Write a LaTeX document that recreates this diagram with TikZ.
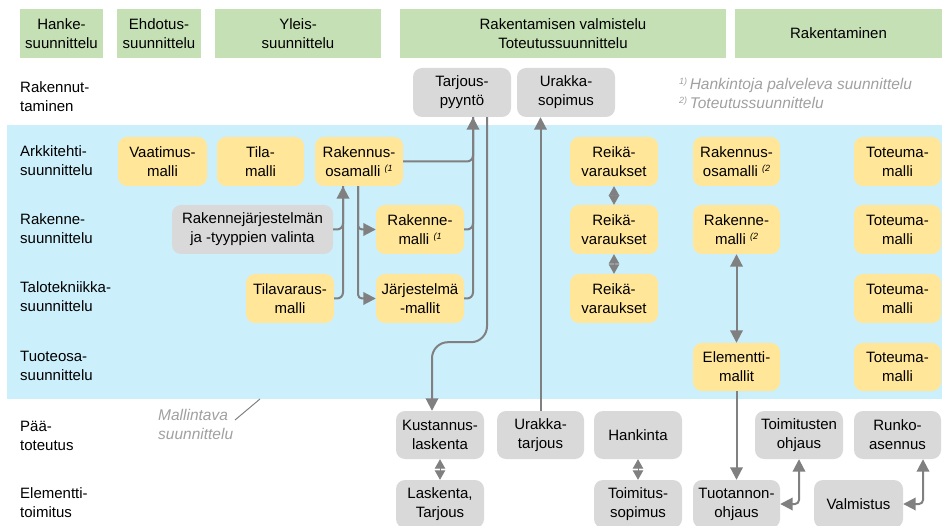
\documentclass[tikz,border=0pt]{standalone}
\usepackage{fontspec}
\setmainfont{Liberation Sans}
\usetikzlibrary{arrows.meta}
\definecolor{hdrgreen}{HTML}{C5E0B4}
\definecolor{bandblue}{HTML}{CCEFFC}
\definecolor{ylw}{HTML}{FFE699}
\definecolor{gry}{HTML}{D9D9D9}
\definecolor{lnc}{HTML}{808080}
\definecolor{notec}{HTML}{A0A0A0}
\newcommand{\supit}[1]{\raisebox{5pt}{\fontsize{9}{9}\selectfont\itshape #1}}
\begin{document}
\begin{tikzpicture}[x=1pt,y=-1pt, font=\fontsize{15}{19}\selectfont,
  box/.style={rounded corners=9pt, align=center, inner sep=0pt, minimum height=49pt},
  ybox/.style={box, fill=ylw, minimum width=88pt},
  gbox/.style={box, fill=gry, minimum width=88pt},
  hdr/.style={fill=hdrgreen, align=center, inner sep=0pt, minimum height=49pt},
  lab/.style={anchor=west, align=left, inner sep=0pt},
  note/.style={anchor=west, align=left, inner sep=0pt, text=notec, font=\fontsize{15.5}{19}\selectfont\itshape},
  conn/.style={draw=lnc, line width=2pt, -{Triangle[length=12.5pt,width=12.5pt]}},
  plainline/.style={draw=lnc, line width=2pt},
  conntwo/.style={draw=lnc, line width=2pt, {Triangle[length=12.5pt,width=12.5pt]}-{Triangle[length=12.5pt,width=12.5pt]}},
  dia/.style={draw=lnc, line width=1pt, {Triangle[length=9.5pt,width=10.5pt]}-{Triangle[length=9.5pt,width=10.5pt]}},
  thinline/.style={draw=lnc, line width=1pt}
]
\useasboundingbox (0,0) rectangle (942,526);
% band
\fill[bandblue] (7,125) rectangle (942,399);
% headers
\node[hdr, minimum width=83pt] (h1) at (61.5,33.5) {Hanke-\\suunnittelu};
\node[hdr, minimum width=84pt] (h2) at (159,33.5) {Ehdotus-\\suunnittelu};
\node[hdr, minimum width=166pt] (h3) at (298,33.5) {Yleis-\\suunnittelu};
\node[hdr, minimum width=326pt] (h4) at (563,33.5) {Rakentamisen valmistelu\\Toteutussuunnittelu};
\node[hdr, minimum width=207pt] (h5) at (838.5,33.5) {Rakentaminen};
% row labels
\node[lab] (l1) at (20,97) {Rakennut-\\taminen};
\node[lab] (l2) at (20,161) {Arkkitehti-\\suunnittelu};
\node[lab] (l3) at (20,229) {Rakenne-\\suunnittelu};
\node[lab] (l4) at (20,297) {Talotekniikka-\\suunnittelu};
\node[lab] (l5) at (20,366) {Tuoteosa-\\suunnittelu};
\node[lab] (l6) at (20,436) {Pää-\\toteutus};
\node[lab] (l7) at (20,503) {Elementti-\\toimitus};
% top row
\node[gbox, minimum width=98pt] (tarj) at (462,92.5) {Tarjous-\\pyyntö};
\node[gbox, minimum width=98pt] (urso) at (566,92.5) {Urakka-\\sopimus};
% row 1
\node[ybox, minimum width=89pt] (vaat) at (162.5,161.5) {Vaatimus-\\malli};
\node[ybox, minimum width=87pt] (tila) at (260.5,161.5) {Tila-\\malli};
\node[ybox] (rko1) at (359,161.5) {Rakennus-\\osamalli \supit{(1}};
\node[ybox] (reik1) at (614,161.5) {Reikä-\\varaukset};
\node[ybox, minimum width=87pt] (rko2) at (736.5,161.5) {Rakennus-\\osamalli \supit{(2}};
\node[ybox, minimum width=87pt] (tot1) at (897.5,161.5) {Toteuma-\\malli};
% row 2
\node[gbox, minimum width=161pt] (rjval) at (252.5,229.5) {Rakennejärjestelmän\\ja -tyyppien valinta};
\node[ybox] (rm1) at (420,229.5) {Rakenne-\\malli \supit{(1}};
\node[ybox] (reik2) at (614,229.5) {Reikä-\\varaukset};
\node[ybox, minimum width=87pt] (rm2) at (736.5,229.5) {Rakenne-\\malli \supit{(2}};
\node[ybox, minimum width=87pt] (tot2) at (897.5,229.5) {Toteuma-\\malli};
% row 3
\node[ybox] (tilav) at (290,298.5) {Tilavaraus-\\malli};
\node[ybox] (jarj) at (420,298.5) {Järjestelmä\\-mallit};
\node[ybox] (reik3) at (614,298.5) {Reikä-\\varaukset};
\node[ybox, minimum width=87pt] (tot3) at (897.5,298.5) {Toteuma-\\malli};
% row 4
\node[ybox, minimum width=87pt, minimum height=48pt] (elem) at (736.5,367) {Elementti-\\mallit};
\node[ybox, minimum width=87pt, minimum height=48pt] (tot4) at (897.5,367) {Toteuma-\\malli};
% bottom rows
\node[gbox, minimum height=48pt] (kust) at (440,435) {Kustannus-\\laskenta};
\node[gbox, minimum width=87pt, minimum height=48pt] (urta) at (540.5,435) {Urakka-\\tarjous};
\node[gbox, minimum height=48pt] (hank) at (638,435) {Hankinta};
\node[gbox, minimum height=48pt] (toimo) at (799,435) {Toimitusten\\ohjaus};
\node[gbox, minimum width=87pt, minimum height=48pt] (runko) at (897.5,435) {Runko-\\asennus};
\node[gbox, minimum height=48pt] (lask) at (440,504) {Laskenta,\\Tarjous};
\node[gbox, minimum height=48pt] (toims) at (638,504) {Toimitus-\\sopimus};
\node[gbox, minimum width=87pt, minimum height=48pt] (tuot) at (736.5,504) {Tuotannon-\\ohjaus};
\node[gbox, minimum width=89pt, minimum height=48pt] (valm) at (858.5,504) {Valmistus};
% notes
\node[note] (fn) at (679,93) {\supit{1)}\,Hankintoja palveleva suunnittelu\\\supit{2)}\,Toteutussuunnittelu};
\node[note] (mall) at (158,424) {Mallintava\\suunnittelu};
\coordinate (m1) at (235,420);
\coordinate (m2) at (260,399);
\draw[thinline] (m1) -- (m2);
% connectors to Tarjouspyynto
\draw[plainline, rounded corners=6pt] (rko1.east) -| ([xshift=11pt]tarj.south);
\draw[plainline, rounded corners=6pt] (rm1.east) -| ([xshift=11pt]tarj.south);
\draw[conn, rounded corners=6pt] (jarj.east) -| ([xshift=11pt]tarj.south);
% Tarjouspyynto to Kustannuslaskenta
\draw[conn, rounded corners=16pt] ([xshift=25pt]tarj.south) -- ++(0,225) -| ([xshift=-8pt]kust.north);
% Urakkatarjous to Urakkasopimus
\draw[conn] (urta.north) -- (urta.north |- urso.south);
% to Rakennusosamalli
\draw[plainline, rounded corners=6pt] (rjval.east) -| ([xshift=-16pt]rko1.south);
\draw[conn, rounded corners=6pt] (tilav.east) -| ([xshift=-16pt]rko1.south);
% from Rakennusosamalli
\draw[conn, rounded corners=4pt] ([xshift=-1pt]rko1.south) |- (rm1.west);
\draw[conn, rounded corners=4pt] ([xshift=-1pt]rko1.south) |- (jarj.west);
% diamonds
\draw[dia] (reik1.south) -- (reik2.north);
\draw[dia] (reik2.south) -- (reik3.north);
\draw[dia] (kust.south) -- (lask.north);
\draw[dia] (hank.south) -- (toims.north);
% right part
\draw[conntwo] (rm2.south) -- (elem.north);
\draw[conn] (elem.south) -- (tuot.north);
\draw[conntwo, rounded corners=4pt] (tuot.east) -| (toimo.south);
\draw[conntwo, rounded corners=4pt] (valm.east) -| ([xshift=25.5pt]runko.south);
\end{tikzpicture}
\end{document}
